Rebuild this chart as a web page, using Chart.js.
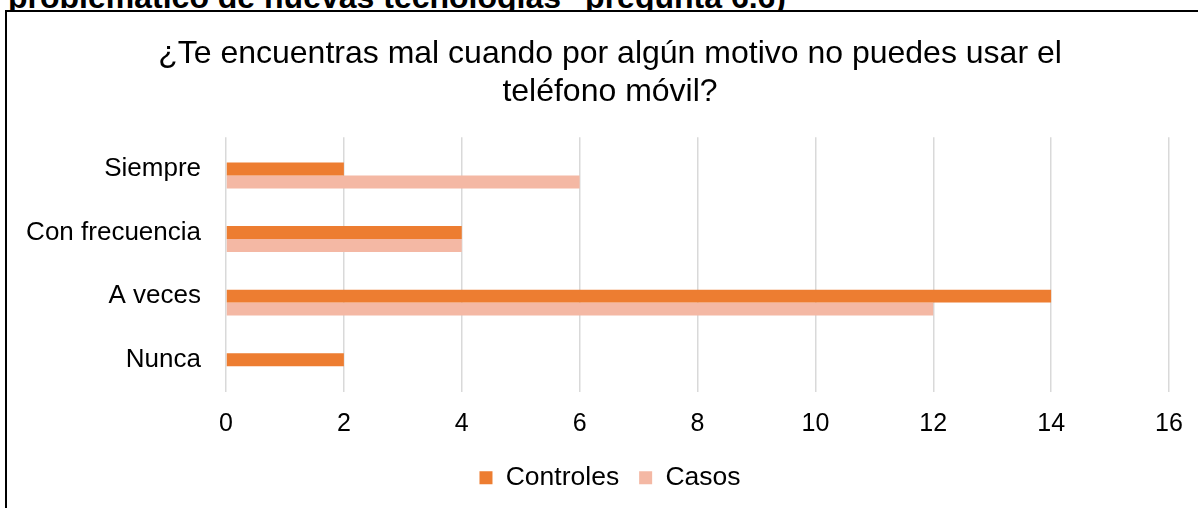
<!DOCTYPE html>
<html lang="es">
<head>
  <meta charset="UTF-8">
  <title>Uso del teléfono móvil</title>
  <script src="https://cdn.jsdelivr.net/npm/chart.js"></script>
  <style>
    html, body { margin: 0; padding: 0; background: #fff; overflow: hidden; }
    body { width: 1198px; height: 508px; position: relative; font-family: "Liberation Sans", Arial, sans-serif; }
    .pie-texto {
      position: absolute; left: 8px; top: -19px; margin: 0;
      font-weight: bold; font-size: 32px; line-height: 32px; color: #000; white-space: nowrap;
    }
    .marco {
      position: absolute; left: 5px; top: 10px;
      width: 1200px; height: 500px;
      border: 2px solid #000; background: #fff;
    }
  </style>
</head>
<body>
  <p class="pie-texto">problemático de nuevas tecnologías" pregunta 6.6)</p>
  <div class="marco">
    <canvas id="grafico" width="1200" height="500"></canvas>
  </div>

  <script>
    const categorias = ['Siempre', 'Con frecuencia', 'A veces', 'Nunca'];
    const controles = [2, 4, 14, 2];
    const casos = [6, 4, 12, 0];
    // serie vacía que ocupa el primer hueco de cada grupo (como en el original)
    const vacia = [null, null, null, null];
    const ticksX = [0, 2, 4, 6, 8, 10, 12, 14, 16];

    const fuente = '"Liberation Sans", Arial, sans-serif';

    // centra título y leyenda sobre el marco completo y no sobre el área recortada
    const centrarBloques = {
      id: 'centrarBloques',
      afterLayout(chart) {
        [chart.titleBlock, chart.legend].forEach(b => {
          if (b) { b.left += 22; b.right += 22; }
        });
      }
    };

    new Chart(document.getElementById('grafico'), {
      type: 'bar',
      data: {
        labels: categorias,
        datasets: [
          { label: '', data: vacia, backgroundColor: 'rgba(0,0,0,0)' },
          { label: 'Controles', data: controles, backgroundColor: '#ED7D31' },
          { label: 'Casos', data: casos, backgroundColor: '#F4B8A4' }
        ]
      },
      options: {
        indexAxis: 'y',
        responsive: false,
        animation: false,
        layout: { padding: { left: 0, right: 38, top: 0, bottom: 11 } },
        datasets: { bar: { categoryPercentage: 0.612, barPercentage: 1 } },
        scales: {
          x: {
            min: 0, max: 16,
            afterBuildTicks: s => { s.ticks = ticksX.map(v => ({ value: v })); },
            afterFit: s => { s.height = 53; },
            grid: { color: '#D9D9D9', lineWidth: 1.5, drawTicks: false },
            border: { display: false },
            ticks: { color: '#000', padding: 18, font: { family: fuente, size: 25 } }
          },
          y: {
            afterFit: s => { s.width = 219; },
            grid: { display: false },
            border: { display: false },
            ticks: { color: '#000', padding: 17, font: { family: fuente, size: 26 } }
          }
        },
        plugins: {
          title: {
            display: true,
            text: ['¿Te encuentras mal cuando por algún motivo no puedes usar el', 'teléfono móvil?'],
            color: '#000',
            font: { family: fuente, size: 32, weight: 'normal', lineHeight: 1.19 },
            padding: { top: 23, bottom: 26 }
          },
          legend: {
            position: 'bottom',
            labels: {
              color: '#000',
              boxWidth: 13, boxHeight: 13,
              padding: 20,
              font: { family: fuente, size: 26.5 },
              filter: item => item.text !== ''
            }
          },
          tooltip: { enabled: false }
        }
      },
      plugins: [centrarBloques]
    });
  </script>
</body>
</html>
